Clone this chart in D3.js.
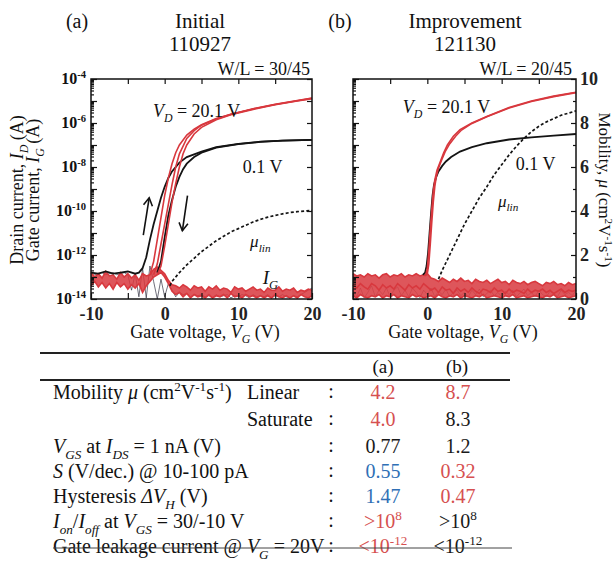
<!DOCTYPE html>
<html>
<head>
<meta charset="utf-8">
<script src="https://cdn.jsdelivr.net/npm/d3@7"></script>
<style>
body{margin:0;background:#fff;}
svg{display:block;font-family:"Liberation Serif","Times New Roman",serif;}
</style>
</head>
<body>
<svg id="tftChart" width="614" height="564"></svg>
<script>
const tftChart = d3.select("#tftChart");
const serifFont = '"Liberation Serif", "Times New Roman", serif';
const redCol = "#d8383e";
const blackCol = "#141414";

// axis ticks
const vgTickLabels = [-10, 0, 10, 20];
const vgAllTicks = [-10, -5, 0, 5, 10, 15, 20];
const logLabelExp = [-4, -6, -8, -10, -12, -14];
const muTickLabels = [0, 2, 4, 6, 8, 10];
const muAllTicks = [0, 1, 2, 3, 4, 5, 6, 7, 8, 9, 10];

// (a) Initial 110927 : drain current, log10(I_D / A)
const aRed1Vg = [-2, -1.5, -1, -0.5, 0, 0.5, 1, 1.5, 2, 3, 4, 5, 7, 9, 12, 15, 18, 20];
const aRed1Log = [-12.9, -12.3, -11.3, -10.3, -9.3, -8.5, -7.85, -7.35, -7.0, -6.55, -6.28, -6.08, -5.8, -5.6, -5.35, -5.15, -4.98, -4.86];
const aRed2Vg = [-1.5, -1, -0.5, 0, 0.5, 1, 1.5, 2, 3, 4, 5, 7, 9, 12, 15, 18, 20];
const aRed2Log = [-12.9, -12.4, -11.5, -10.6, -9.7, -8.8, -8.0, -7.4, -6.7, -6.35, -6.1, -5.82, -5.6, -5.36, -5.16, -4.99, -4.88];
const aRed3Vg = [-1, -0.5, 0, 0.5, 1, 1.5, 2, 2.5, 3, 4, 5, 7, 9, 12, 15, 18, 20];
const aRed3Log = [-12.9, -12.5, -11.6, -10.6, -9.6, -8.75, -8.0, -7.4, -7.0, -6.5, -6.2, -5.85, -5.62, -5.38, -5.17, -5.0, -4.9];
const aBlk1Vg = [-10, -9, -8, -7, -6, -5, -4, -3.5, -3, -2.5, -2, -1.5, -1, -0.5, 0, 0.5, 1, 2, 3, 5, 7, 10, 13, 16, 20];
const aBlk1Log = [-12.8, -12.85, -12.75, -12.85, -12.8, -12.75, -12.85, -12.8, -12.6, -12.1, -11.3, -10.6, -10.0, -9.4, -8.9, -8.5, -8.2, -7.8, -7.55, -7.3, -7.1, -6.95, -6.85, -6.8, -6.77];
const aBlk2Vg = [-1, -0.5, 0, 0.5, 1, 1.5, 2, 2.5, 3, 4, 5, 7, 10, 13, 16, 20];
const aBlk2Log = [-12.8, -12.3, -11.2, -10.2, -9.5, -8.9, -8.45, -8.1, -7.85, -7.55, -7.35, -7.12, -6.96, -6.86, -6.8, -6.77];
// (a) linear mobility (cm2/Vs)
const aMuVg = [0.7, 1, 2, 3, 4, 5, 6, 7, 8, 9, 10, 11, 12, 13, 14, 15, 16, 17, 18, 19, 20];
const aMu = [0.6, 0.8, 1.2, 1.55, 1.85, 2.15, 2.4, 2.65, 2.85, 3.05, 3.2, 3.35, 3.5, 3.62, 3.72, 3.8, 3.87, 3.93, 3.97, 4.0, 4.02];

// (b) Improvement 121130
const bRed1Vg = [-0.5, -0.2, 0, 0.2, 0.4, 0.6, 0.8, 1.0, 1.3, 1.7, 2.2, 2.7, 3.5, 4.4, 6, 8, 11, 14, 17, 20];
const bRed1Log = [-12.95, -12.9, -12.6, -11.8, -10.8, -9.9, -9.1, -8.6, -8.15, -7.8, -7.35, -7.0, -6.6, -6.3, -6.0, -5.7, -5.3, -5.0, -4.78, -4.6];
const bRed2Vg = [-0.3, 0, 0.2, 0.4, 0.6, 0.8, 1.0, 1.2, 1.5, 1.9, 2.4, 3, 3.8, 4.6, 6, 8, 11, 14, 17, 20];
const bRed2Log = [-12.95, -12.85, -12.4, -11.5, -10.5, -9.6, -8.9, -8.45, -8.05, -7.7, -7.3, -6.95, -6.6, -6.32, -6.02, -5.72, -5.32, -5.02, -4.8, -4.62];
const bBlkVg = [-0.6, -0.3, -0.1, 0.1, 0.3, 0.5, 0.7, 0.9, 1.2, 1.5, 2, 2.5, 3.2, 4.4, 6, 8, 11, 14, 17, 20];
const bBlkLog = [-12.9, -12.8, -12.5, -11.9, -11.0, -10.1, -9.3, -8.8, -8.45, -8.2, -7.95, -7.75, -7.55, -7.3, -7.1, -6.92, -6.75, -6.65, -6.57, -6.5];
const bMuVg = [1.5, 2, 3, 4, 5, 6, 7, 8, 9, 10, 11, 12, 13, 14, 15, 16, 17, 18, 19, 20];
const bMu = [0.9, 1.3, 2.0, 2.7, 3.4, 4.0, 4.6, 5.1, 5.65, 6.1, 6.55, 6.95, 7.3, 7.6, 7.85, 8.05, 8.2, 8.35, 8.45, 8.55];

// gate current / off-state noise floor, log10(I / A)
const noiseVg = [-10, -9.5, -9, -8.5, -8, -7.5, -7, -6.5, -6, -5.5,
  -5, -4.5, -4, -3.5, -3, -2.5, -2, -1.5, -1, -0.5,
  0, 0.5, 1, 1.5, 2, 2.5, 3, 3.5, 4, 4.5,
  5, 5.5, 6, 6.5, 7, 7.5, 8, 8.5, 9, 9.5,
  10, 10.5, 11, 11.5, 12, 12.5, 13, 13.5, 14, 14.5,
  15, 15.5, 16, 16.5, 17, 17.5, 18, 18.5, 19, 19.5, 20];
const aIg1 = [-12.8, -13.0, -12.85, -13.05, -12.75, -12.95, -12.9, -13.1, -12.8, -13.0,
  -12.85, -13.05, -12.9, -13.15, -12.85, -12.95, -12.9, -12.65, -12.55, -12.7,
  -12.85, -13.15, -13.35, -13.4, -13.5, -13.35, -13.45, -13.6, -13.4, -13.5,
  -13.45, -13.65, -13.45, -13.55, -13.4, -13.6, -13.5, -13.55, -13.7, -13.45,
  -13.55, -13.5, -13.65, -13.55, -13.45, -13.6, -13.55, -13.7, -13.5, -13.6,
  -13.6, -13.45, -13.65, -13.55, -13.6, -13.5, -13.7, -13.6, -13.65, -13.55, -13.6];
const aIg2 = [-13.4, -13.2, -13.45, -13.25, -13.5, -13.3, -13.55, -13.25, -13.45, -13.3,
  -13.55, -13.35, -13.5, -13.3, -13.7, -13.4, -13.2, -13.0, -12.9, -12.8,
  -13.0, -13.3, -13.65, -13.8, -13.7, -13.9, -13.75, -13.95, -13.8, -13.9,
  -13.85, -13.95, -13.8, -13.95, -13.85, -13.9, -13.8, -13.95, -13.75, -13.9,
  -13.85, -13.95, -13.8, -13.9, -13.85, -13.95, -13.85, -13.95, -13.85, -13.95,
  -13.8, -13.9, -13.95, -13.85, -13.95, -13.85, -13.95, -13.8, -13.9, -13.95, -13.85];
const aIgBlk = [-12.8, -12.9, -12.85, -12.8, -12.9, -12.85, -12.8, -12.9, -12.85, -12.8,
  -12.9, -13.6, -12.85, -13.9, -12.6, -13.95, -12.5, -13.2, -14.0, -13.1,
  -13.9, -13.3, -13.6, -13.9, -13.7, -13.8, -13.75, -13.9, -13.8, -13.85,
  -13.8, -13.9, -13.85, -13.95, -13.8, -13.9, -13.85, -13.8, -13.95, -13.85,
  -13.9, -13.8, -13.85, -13.95, -13.8, -13.9, -13.85, -13.9, -13.8, -13.95,
  -13.85, -13.9, -13.8, -13.9, -13.95, -13.85, -13.9, -13.8, -13.7, -13.6, -13.5];
const bIg1 = [-12.85, -12.95, -12.9, -13.0, -12.85, -12.95, -12.9, -13.05, -12.9, -12.85,
  -13.0, -12.9, -12.95, -12.85, -13.0, -12.9, -12.95, -12.85, -12.95, -12.9,
  -12.85, -13.05, -13.1, -13.2, -13.05, -13.15, -13.25, -13.1, -13.2, -13.05,
  -13.2, -13.15, -13.3, -13.1, -13.2, -13.25, -13.15, -13.3, -13.2, -13.1,
  -13.25, -13.2, -13.35, -13.15, -13.25, -13.3, -13.2, -13.35, -13.25, -13.2,
  -13.3, -13.4, -13.25, -13.3, -13.2, -13.35, -13.3, -13.4, -13.25, -13.35, -13.3];
const bIg2 = [-13.35, -13.5, -13.3, -13.45, -13.55, -13.3, -13.4, -13.6, -13.35, -13.5,
  -13.4, -13.55, -13.3, -13.45, -13.6, -13.35, -13.5, -13.4, -13.55, -13.3,
  -13.45, -13.6, -13.5, -13.7, -13.45, -13.6, -13.55, -13.75, -13.5, -13.65,
  -13.55, -13.7, -13.5, -13.65, -13.75, -13.55, -13.6, -13.7, -13.5, -13.65,
  -13.6, -13.75, -13.55, -13.7, -13.6, -13.65, -13.75, -13.55, -13.7, -13.6,
  -13.65, -13.55, -13.7, -13.6, -13.75, -13.65, -13.55, -13.7, -13.6, -13.65, -13.6];
const bIg3 = [-13.85, -13.95, -13.8, -13.9, -13.95, -13.85, -13.9, -13.8, -13.95, -13.85,
  -13.9, -13.8, -13.95, -13.85, -13.9, -13.95, -13.8, -13.9, -13.85, -13.95,
  -13.9, -13.85, -13.95, -13.8, -13.9, -13.95, -13.85, -13.9, -13.8, -13.95,
  -13.85, -13.9, -13.95, -13.85, -13.9, -13.8, -13.95, -13.9, -13.85, -13.9,
  -13.95, -13.85, -13.9, -13.8, -13.95, -13.9, -13.85, -13.95, -13.9, -13.85,
  -13.9, -13.95, -13.85, -13.9, -13.8, -13.95, -13.9, -13.85, -13.95, -13.9, -13.85];
const bIgBlk = [-13.6, -13.9, -13.5, -13.95, -13.7, -13.4, -13.9, -13.6, -13.8, -13.5,
  -13.9, -13.6, -13.45, -13.85, -13.6, -13.9, -13.5, -13.7, -13.95, -13.6,
  -13.8, -13.5, -13.9, -13.65, -13.8, -13.55, -13.9, -13.7, -13.6, -13.85,
  -13.7, -13.9, -13.6, -13.8, -13.55, -13.9, -13.75, -13.6, -13.85, -13.7,
  -13.9, -13.65, -13.8, -13.6, -13.9, -13.7, -13.55, -13.85, -13.7, -13.9,
  -13.6, -13.8, -13.9, -13.65, -13.75, -13.9, -13.6, -13.8, -13.7, -13.85, -13.6];

// table
const tableRowLabels = [
  [["Mobility ", ""], ["μ", "i"], [" (cm", ""], ["2", "sup"], ["V", ""], ["-1", "sup"], ["s", ""], ["-1", "sup"], [")", ""]],
  [],
  [["V", "i"], ["GS", "isub"], [" at ", ""], ["I", "i"], ["DS", "isub"], [" = 1 nA (V)", ""]],
  [["S", "i"], [" (V/dec.) @ 10-100 pA", ""]],
  [["Hysteresis ", ""], ["ΔV", "i"], ["H", "isub"], [" (V)", ""]],
  [["I", "i"], ["on", "isub"], ["/", ""], ["I", "i"], ["off", "isub"], [" at ", ""], ["V", "i"], ["GS", "isub"], [" = 30/-10 V", ""]],
  [["Gate leakage current @ ", ""], ["V", "i"], ["G", "isub"], [" = 20V", ""]]
];
const tableSubLabels = ["Linear", "Saturate", "", "", "", "", ""];
const colAValues = [[["4.2", ""]], [["4.0", ""]], [["0.77", ""]], [["0.55", ""]], [["1.47", ""]], [[">10", ""], ["8", "sup"]], [["<10", ""], ["-12", "sup"]]];
const colBValues = [[["8.7", ""]], [["8.3", ""]], [["1.2", ""]], [["0.32", ""]], [["0.47", ""]], [[">10", ""], ["8", "sup"]], [["<10", ""], ["-12", "sup"]]];
const colAColors = ["#d65050", "#d65050", "#1a1a1a", "#2f6fb5", "#2f6fb5", "#d65050", "#d65050"];
const colBColors = ["#d65050", "#1a1a1a", "#1a1a1a", "#d65050", "#d65050", "#1a1a1a", "#1a1a1a"];

// text with italic / sub / superscript pieces
function rich(textSel, parts, size) {
  let shift = 0;
  parts.forEach(([t, kind]) => {
    const small = kind === "sup" || kind === "sub" || kind === "isub";
    const target = kind === "sup" ? -0.38 * size : (small ? 0.28 * size : 0);
    const ts = textSel.append("tspan").text(t).attr("dy", target - shift);
    shift = target;
    if (small) ts.attr("font-size", size * 0.66);
    if (kind === "i" || kind === "isub") ts.attr("font-style", "italic");
  });
}

function addText(x, y, parts, size, anchor, extra) {
  const t = tftChart.append("text")
    .attr("x", x).attr("y", y)
    .attr("font-family", serifFont)
    .attr("font-size", size)
    .attr("text-anchor", anchor || "start")
    .attr("fill", "#111");
  if (extra) extra(t);
  rich(t, parts, size);
  return t;
}

const plotTop = 79, plotBottom = 299;
const yLog = d3.scaleLog().domain([1e-14, 1e-4]).range([plotBottom, plotTop]);
const yMu = d3.scaleLinear().domain([0, 10]).range([plotBottom, plotTop]);

const decades = d3.range(-14, -3).map(e => Math.pow(10, e));
let minorLog = [];
for (let e = -14; e < -4; e++) {
  for (let m = 2; m <= 9; m++) minorLog.push(m * Math.pow(10, e));
}

const lineLog = x => d3.line().x(d => x(d[0])).y(d => yLog(Math.pow(10, d[1])));
const lineMu = x => d3.line().x(d => x(d[0])).y(d => yMu(d[1]));

function styleAxis(g) {
  g.select(".domain").remove();
  g.attr("font-family", serifFont);
  g.selectAll("line").attr("stroke", "#111").attr("stroke-width", 1.2);
}

function drawPanel(p) {
  const x = d3.scaleLinear().domain([-10, 20]).range([p.left, p.right]);
  const area = tftChart.append("g");

  // noise band (gate current)
  area.append("path").attr("d", lineLog(x)(d3.zip(noiseVg, p.igBlk)))
    .attr("fill", "none").attr("stroke", "#2a2a3a").attr("stroke-width", 0.9).attr("opacity", p.blkOpacity);
  const band = d3.area()
    .x((d, i) => x(noiseVg[i]))
    .y0((d, i) => yLog(Math.pow(10, p.igLow[i])))
    .y1((d, i) => yLog(Math.pow(10, p.igHigh[i])));
  area.append("path").attr("d", band(noiseVg)).attr("fill", redCol).attr("opacity", 0.85);
  p.igLines.forEach(arr => {
    area.append("path").attr("d", lineLog(x)(d3.zip(noiseVg, arr)))
      .attr("fill", "none").attr("stroke", redCol).attr("stroke-width", 1.6);
  });

  // drain current sweeps
  p.black.forEach(([vg, lg]) => {
    area.append("path").attr("d", lineLog(x)(d3.zip(vg, lg)))
      .attr("fill", "none").attr("stroke", blackCol).attr("stroke-width", 1.8);
  });
  p.red.forEach(([vg, lg]) => {
    area.append("path").attr("d", lineLog(x)(d3.zip(vg, lg)))
      .attr("fill", "none").attr("stroke", redCol).attr("stroke-width", 1.6);
  });
  // linear mobility
  area.append("path").attr("d", lineMu(x)(d3.zip(p.muVg, p.mu)))
    .attr("fill", "none").attr("stroke", blackCol).attr("stroke-width", 1.7)
    .attr("stroke-dasharray", "3,2.2");

  // frame
  tftChart.append("rect")
    .attr("x", p.left).attr("y", plotTop)
    .attr("width", p.right - p.left).attr("height", plotBottom - plotTop)
    .attr("fill", "none").attr("stroke", "#111").attr("stroke-width", 1.5);

  // bottom axis
  const bottom = tftChart.append("g")
    .attr("transform", `translate(0,${plotBottom})`)
    .call(d3.axisBottom(x).tickValues(vgAllTicks).tickSize(-6).tickPadding(8)
      .tickFormat(d => vgTickLabels.includes(d) ? String(d) : ""))
    .call(styleAxis);
  bottom.selectAll("text").attr("font-size", 18)
    .attr("font-weight", "bold").attr("fill", "#222");
  // top axis
  tftChart.append("g")
    .attr("transform", `translate(0,${plotTop})`)
    .call(d3.axisTop(x).tickValues(vgAllTicks.slice(1, -1)).tickSize(-5).tickFormat(""))
    .call(styleAxis);
  // left axis
  tftChart.append("g").attr("transform", `translate(${p.left},0)`)
    .call(d3.axisLeft(yLog).tickValues(minorLog).tickSize(-3).tickFormat(""))
    .call(styleAxis);
  tftChart.append("g").attr("transform", `translate(${p.left},0)`)
    .call(d3.axisLeft(yLog).tickValues(decades).tickSize(-6).tickFormat(""))
    .call(styleAxis);

  // x axis title
  addText(p.titleX, 338, [["Gate voltage, ", ""], ["V", "i"], ["G", "isub"], [" (V)", ""]], 18, "middle");
  return x;
}

// panel (a)
const xA = drawPanel({
  left: 91, right: 312, titleX: 205,
  igHigh: aIg1, igLow: aIg2, igLines: [aIg1, aIg2], igBlk: aIgBlk, blkOpacity: 0.75,
  black: [[aBlk1Vg, aBlk1Log], [aBlk2Vg, aBlk2Log]],
  red: [[aRed1Vg, aRed1Log], [aRed2Vg, aRed2Log], [aRed3Vg, aRed3Log]],
  muVg: aMuVg, mu: aMu
});
tftChart.append("g").attr("transform", "translate(312,0)")
  .call(d3.axisRight(yLog).tickValues(decades).tickSize(-5).tickFormat(""))
  .call(styleAxis);

// panel (b)
const xB = drawPanel({
  left: 353, right: 576, titleX: 463,
  igHigh: bIg1, igLow: bIg3, igLines: [bIg1, bIg2, bIg3], igBlk: bIgBlk, blkOpacity: 0.5,
  black: [[bBlkVg, bBlkLog]],
  red: [[bRed1Vg, bRed1Log], [bRed2Vg, bRed2Log]],
  muVg: bMuVg, mu: bMu
});
const rightMu = tftChart.append("g").attr("transform", "translate(576,0)")
  .call(d3.axisRight(yMu).tickValues(muAllTicks).tickSize(-5).tickPadding(4)
    .tickFormat(d => muTickLabels.includes(d) ? String(d) : ""))
  .call(styleAxis);
rightMu.selectAll("text").attr("font-size", 18)
  .attr("font-weight", "bold").attr("fill", "#222");
rightMu.selectAll(".tick").filter(d => d % 2 === 1).select("line").attr("x2", -3);

// left log tick labels
logLabelExp.forEach(e => {
  addText(86, yLog(Math.pow(10, e)) + 5, [["10", ""], [String(e), "sup"]], 16, "end",
    t => t.attr("font-weight", "bold"));
});

// axis titles
addText(0, 0, [["Drain current, ", ""], ["I", "i"], ["D", "isub"], [" (A)", ""]], 18, "middle",
  t => t.attr("transform", "translate(23,190) rotate(-90)"));
addText(0, 0, [["Gate current, ", ""], ["I", "i"], ["G", "isub"], [" (A)", ""]], 18, "middle",
  t => t.attr("transform", "translate(39,190) rotate(-90)"));
addText(0, 0, [["Mobility, ", ""], ["μ", "i"], [" (cm", ""], ["2", "sup"], ["V", ""], ["-1", "sup"], ["s", ""], ["-1", "sup"], [")", ""]], 17, "middle",
  t => t.attr("transform", "translate(599,190) rotate(90)"));

// headings
addText(77, 28, [["(a)", ""]], 20, "middle");
addText(200, 28, [["Initial", ""]], 21, "middle");
addText(200, 51, [["110927", ""]], 21, "middle");
addText(310, 75, [["W/L = 30/45", ""]], 18, "end");
addText(340, 28, [["(b)", ""]], 20, "middle");
addText(465, 28, [["Improvement", ""]], 21, "middle");
addText(465, 51, [["121130", ""]], 21, "middle");
addText(572, 75, [["W/L = 20/45", ""]], 18, "end");

// annotations panel (a)
addText(xA(-1.6), yLog(Math.pow(10, -5.73)), [["V", "i"], ["D", "isub"], [" = 20.1 V", ""]], 18);
addText(xA(10.6), yLog(Math.pow(10, -8.25)), [["0.1 V", ""]], 18);
addText(xA(11.6), yLog(Math.pow(10, -11.64)), [["μ", "i"], ["lin", "isub"]], 17);
addText(xA(13.3), yLog(Math.pow(10, -13.3)), [["I", "i"], ["G", "isub"]], 19);

// sweep direction arrows
const defs = tftChart.append("defs");
defs.append("marker").attr("id", "arrowHead")
  .attr("viewBox", "0 0 10 10").attr("refX", 8).attr("refY", 5)
  .attr("markerWidth", 7).attr("markerHeight", 8).attr("orient", "auto")
  .append("path").attr("d", "M1,1 L8,5 L1,9").attr("fill", "none")
  .attr("stroke", "#111").attr("stroke-width", 1.4);
const arrows = [
  [[-2.9, -11.1], [-2.1, -9.4]],
  [[3.1, -9.3], [2.4, -10.9]]
];
arrows.forEach(([a, b]) => {
  tftChart.append("line")
    .attr("x1", xA(a[0])).attr("y1", yLog(Math.pow(10, a[1])))
    .attr("x2", xA(b[0])).attr("y2", yLog(Math.pow(10, b[1])))
    .attr("stroke", "#111").attr("stroke-width", 1.6)
    .attr("marker-end", "url(#arrowHead)");
});

// annotations panel (b)
addText(xB(-3.3), yLog(Math.pow(10, -5.55)), [["V", "i"], ["D", "isub"], [" = 20.1 V", ""]], 18);
addText(xB(11.9), yLog(Math.pow(10, -8.14)), [["0.1 V", ""]], 18);
addText(xB(9.5), yLog(Math.pow(10, -9.8)), [["μ", "i"], ["lin", "isub"]], 17);

// table
tftChart.append("line").attr("x1", 40).attr("x2", 510).attr("y1", 353).attr("y2", 353)
  .attr("stroke", "#222").attr("stroke-width", 2);
tftChart.append("line").attr("x1", 40).attr("x2", 510).attr("y1", 380).attr("y2", 380)
  .attr("stroke", "#222").attr("stroke-width", 2);
addText(383, 373, [["(a)", ""]], 19, "middle");
addText(457, 373, [["(b)", ""]], 19, "middle");

const rowBase = [399, 426, 453, 478, 503, 528, 553];
tableRowLabels.forEach((parts, i) => {
  const y = rowBase[i];
  if (parts.length) addText(53, y, parts, 20);
  if (tableSubLabels[i]) addText(247, y, [[tableSubLabels[i], ""]], 20);
  addText(331, y - 1, [[":", ""]], 20, "middle");
  addText(383, y, colAValues[i], 20, "middle")
    .selectAll("tspan").attr("fill", colAColors[i]);
  addText(458, y, colBValues[i], 20, "middle")
    .selectAll("tspan").attr("fill", colBColors[i]);
});
tftChart.append("line").attr("x1", 53).attr("x2", 512).attr("y1", 548).attr("y2", 548)
  .attr("stroke", "#444").attr("stroke-width", 1);
</script>
</body>
</html>
